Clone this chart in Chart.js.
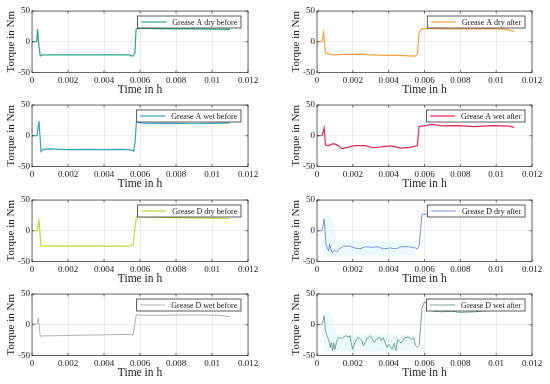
<!DOCTYPE html>
<html>
<head>
<meta charset="utf-8">
<script src="https://cdn.jsdelivr.net/npm/chart.js@4/dist/chart.umd.min.js"></script>
<style>
  html, body { margin: 0; padding: 0; background: #fff; }
  #page { position: relative; width: 550px; height: 384px; overflow: hidden; }
  .cell { position: absolute; width: 275px; height: 100px; }
  .cell canvas { display: block; }
</style>
</head>
<body>
<div id="page"></div>
<script>
// axis ticks
const xTicks = [0, 0.002, 0.004, 0.006, 0.008, 0.01, 0.012];
const yTicks = [-50, 0, 50];

// Grease A dry
const tADryBefore = [0, 0.00026, 0.00031, 0.00037, 0.00046, 0.0006, 0.001, 0.002, 0.003, 0.004, 0.005, 0.0054, 0.0056, 0.00572, 0.00578, 0.0059, 0.007, 0.008, 0.009, 0.01, 0.011];
const vADryBefore = [0, 0, 20.5, -3, -23, -21.5, -21.5, -21.5, -21.5, -21.5, -21.5, -21.5, -23.5, -18, 20, 22, 21.5, 21, 21, 20.5, 20];
const tADryAfter = [0, 0.00028, 0.00037, 0.00047, 0.0007, 0.001, 0.0014, 0.002, 0.0025, 0.003, 0.0038, 0.0045, 0.0051, 0.0055, 0.0056, 0.0057, 0.00586, 0.0065, 0.0075, 0.0085, 0.0095, 0.0105, 0.011];
const vADryAfter = [0, 0, 15, -18, -20, -21.5, -20.5, -20.5, -20, -21.5, -22, -22, -23, -23.5, -20, 15, 21.5, 21.5, 21, 21, 21.5, 20.5, 17];

// Grease A wet
const tAWetBefore = [0, 0.00028, 0.00039, 0.0005, 0.0006, 0.0009, 0.002, 0.003, 0.004, 0.005, 0.0055, 0.00565, 0.00573, 0.0058, 0.0062, 0.007, 0.008, 0.009, 0.01, 0.011];
const vAWetBefore = [0, 0, 24, -26, -23, -21.5, -22.5, -22, -22.5, -22, -23, -25, -10, 22.5, 20.5, 20, 20, 19.5, 20, 21];
const tAWetAfter = [0, 0.00028, 0.0004, 0.00047, 0.00065, 0.0009, 0.0011, 0.0014, 0.0017, 0.0021, 0.0027, 0.0031, 0.0036, 0.0041, 0.0047, 0.0052, 0.0056, 0.0057, 0.006, 0.0064, 0.007, 0.0079, 0.0088, 0.0098, 0.0107, 0.011];
const vAWetAfter = [0, 0, 13, -15, -16, -13, -14.5, -21, -19, -16, -16, -19.5, -18, -16.5, -20, -19, -16, 15, 16, 18.5, 16, 16.5, 15, 16.5, 15.5, 13.5];

// Grease D dry
const tDDryBefore = [0, 0.00028, 0.00039, 0.0005, 0.001, 0.002, 0.003, 0.004, 0.005, 0.0055, 0.00563, 0.0057, 0.0058, 0.006, 0.007, 0.008, 0.009, 0.01, 0.011];
const vDDryBefore = [0, 0, 16.5, -25, -25, -25, -25, -25, -25, -24.5, -21, 0, 23, 23, 22, 21.5, 21, 20.5, 19.5];
const tDDryAfter = [0, 0.00028, 0.0004, 0.0005, 0.00065, 0.0007, 0.00084, 0.001, 0.0011, 0.0013, 0.0015, 0.0018, 0.0021, 0.0024, 0.0027, 0.0031, 0.0034, 0.0037, 0.0041, 0.0044, 0.0047, 0.0051, 0.0055, 0.0056, 0.0057, 0.00586, 0.0062, 0.007, 0.008, 0.009, 0.01, 0.011];
const vDDryAfter = [0, 0, 19, -22, -33, -22, -36, -32, -35, -28, -25, -25, -28, -29.5, -26, -27, -26, -29.5, -28, -29.5, -26, -26, -28, -29.5, -25, 27, 27, 27, 27, 27, 27, 27];
const tBandDDryAfter = [0.00035, 0.0008, 0.0011, 0.002, 0.003, 0.004, 0.005, 0.0055];
const hiBandDDryAfter = [25, 25, -16, -16, -16, -17, -17, -17];
const loBandDDryAfter = [-42, -42, -42, -40, -40, -41, -40, -40];

// Grease D wet
const tDWetBefore = [0, 0.00028, 0.00035, 0.00046, 0.0006, 0.001, 0.0019, 0.0028, 0.0038, 0.0048, 0.0055, 0.0056, 0.0057, 0.0058, 0.006, 0.0075, 0.009, 0.0103, 0.011];
const vDWetBefore = [1.5, 1.5, 11, -19, -18, -18, -17.5, -17, -16.5, -16, -15.5, -18, 0, 16.5, 15.5, 15.5, 16, 15.5, 13];
const tDWetAfter = [0, 0.00028, 0.0004, 0.00047, 0.00056, 0.00065, 0.00074, 0.0008, 0.00087, 0.00093, 0.001, 0.0011, 0.0012, 0.0014, 0.0016, 0.0018, 0.00185, 0.0019, 0.002, 0.0021, 0.0023, 0.0025, 0.0026, 0.0028, 0.003, 0.0032, 0.0033, 0.0035, 0.0036, 0.0037, 0.0039, 0.004, 0.0042, 0.0043, 0.0044, 0.0045, 0.0047, 0.0049, 0.0051, 0.0053, 0.0054, 0.0055, 0.0056, 0.0057, 0.00586, 0.006, 0.0062, 0.0065, 0.007, 0.0075, 0.008, 0.0088, 0.0095, 0.011];
const vDWetAfter = [0, 1, 14, -10, -18, -24, -37, -29, -42, -30, -40, -26, -21, -22, -18, -20, -18, -29, -40, -29, -20, -26, -34, -22, -18, -29, -24, -20, -26, -21, -37, -32, -40, -30, -42, -24, -30, -21, -20, -24, -21, -34, -37, -34, 27, 38, 30, 22, 21, 22, 20, 21, 23, 24];
const tBandDWetAfter = [0.00035, 0.0008, 0.0011, 0.002, 0.003, 0.004, 0.005, 0.0055];
const hiBandDWetAfter = [20, 20, -16, -16, -16, -16, -17, -17];
const loBandDWetAfter = [-44, -44, -44, -43, -43, -44, -43, -42];

const rowTops = [0, 94, 189, 283];

const panels = [
  { row: 0, col: 0, label: 'Grease A dry before', color: '#2aa587', width: 1.2, t: tADryBefore, v: vADryBefore },
  { row: 0, col: 1, label: 'Grease A dry after', color: '#f6a23f', width: 1.2, t: tADryAfter, v: vADryAfter },
  { row: 1, col: 0, label: 'Grease A wet before', color: '#39a0c0', width: 1.2, t: tAWetBefore, v: vAWetBefore },
  { row: 1, col: 1, label: 'Grease A wet after', color: '#e4284f', width: 1.2, t: tAWetAfter, v: vAWetAfter },
  { row: 2, col: 0, label: 'Grease D dry before', color: '#c1d72d', width: 1.2, t: tDDryBefore, v: vDDryBefore },
  { row: 2, col: 1, label: 'Grease D dry after', color: '#5a7bd6', width: 0.8, t: tDDryAfter, v: vDDryAfter,
    band: { t: tBandDDryAfter, hi: hiBandDDryAfter, lo: loBandDDryAfter } },
  { row: 3, col: 0, label: 'Grease D wet before', color: '#a8a8a8', width: 0.9, t: tDWetBefore, v: vDWetBefore },
  { row: 3, col: 1, label: 'Grease D wet after', color: '#5b8d7e', width: 0.8, t: tDWetAfter, v: vDWetAfter,
    band: { t: tBandDWetAfter, hi: hiBandDWetAfter, lo: loBandDWetAfter } }
];

const SERIF = '"Liberation Serif", "Times New Roman", serif';

function pts(t, v) {
  return t.map((x, i) => ({ x: x, y: v[i] }));
}

// box, inward ticks and legend on top of the lines
const framePlugin = {
  id: 'frame',
  afterDatasetsDraw(chart) {
    const ctx = chart.ctx;
    const a = chart.chartArea;
    const xs = chart.scales.x, ys = chart.scales.y;
    ctx.save();
    ctx.strokeStyle = '#333';
    ctx.lineWidth = 0.7;
    ctx.beginPath();
    xTicks.forEach(t => {
      const px = xs.getPixelForValue(t);
      ctx.moveTo(px, a.bottom); ctx.lineTo(px, a.bottom - 2.5);
      ctx.moveTo(px, a.top); ctx.lineTo(px, a.top + 2.5);
    });
    yTicks.forEach(t => {
      const py = ys.getPixelForValue(t);
      ctx.moveTo(a.left, py); ctx.lineTo(a.left + 2.5, py);
      ctx.moveTo(a.right, py); ctx.lineTo(a.right - 2.5, py);
    });
    ctx.stroke();
    ctx.strokeRect(a.left, a.top, a.right - a.left, a.bottom - a.top);

    // legend
    const p = chart.options.plugins.frame;
    ctx.font = '8px ' + SERIF;
    const tw = ctx.measureText(p.label).width;
    const bw = 34.7 + tw + 3.7;
    const bx = a.right - 7 - bw;
    const by = a.top + 5;
    ctx.fillStyle = '#fff';
    ctx.fillRect(bx, by, bw, 12);
    ctx.strokeStyle = '#333';
    ctx.lineWidth = 0.8;
    ctx.strokeRect(bx, by, bw, 12);
    ctx.strokeStyle = p.color;
    ctx.lineWidth = p.width;
    ctx.beginPath();
    ctx.moveTo(bx + 3.7, by + 6);
    ctx.lineTo(bx + 28.7, by + 6);
    ctx.stroke();
    ctx.fillStyle = '#222';
    ctx.textBaseline = 'middle';
    ctx.fillText(p.label, bx + 34.7, by + 6.5);
    ctx.restore();
  }
};

function makeChart(p) {
  const cell = document.createElement('div');
  cell.className = 'cell';
  cell.style.left = (p.col * 275) + 'px';
  cell.style.top = rowTops[p.row] + 'px';
  const canvas = document.createElement('canvas');
  canvas.width = 275;
  canvas.height = 100;
  canvas.style.width = '275px';
  canvas.style.height = '100px';
  cell.appendChild(canvas);
  document.getElementById('page').appendChild(cell);

  const datasets = [{
    data: pts(p.t, p.v),
    borderColor: p.color,
    borderWidth: p.width,
    pointRadius: 0,
    tension: 0,
    fill: false
  }];
  if (p.band) {
    datasets.push({
      data: pts(p.band.t, p.band.lo),
      borderWidth: 0,
      pointRadius: 0,
      fill: false
    });
    datasets.push({
      data: pts(p.band.t, p.band.hi),
      borderWidth: 0,
      pointRadius: 0,
      backgroundColor: 'rgba(215, 243, 250, 0.45)',
      fill: '-1'
    });
  }

  const yWidth = p.col === 0 ? 32 : 42;
  const rightPad = p.col === 0 ? 27 : 18;

  return new Chart(canvas, {
    type: 'line',
    data: { datasets: datasets },
    plugins: [framePlugin],
    options: {
      responsive: false,
      animation: false,
      devicePixelRatio: 1,
      layout: { padding: { top: 11, right: rightPad, bottom: 0, left: 0 } },
      plugins: {
        legend: { display: false },
        tooltip: { enabled: false },
        frame: { label: p.label, color: p.color, width: p.width }
      },
      scales: {
        x: {
          type: 'linear',
          min: 0,
          max: 0.012,
          afterBuildTicks: s => { s.ticks = xTicks.map(v => ({ value: v })); },
          afterFit: s => { s.height = 27.5; },
          ticks: {
            font: { family: SERIF, size: 9 },
            color: '#222',
            padding: 3,
            maxRotation: 0,
            callback: v => String(+v.toFixed(4))
          },
          grid: { color: '#e4e4e4', lineWidth: 0.7, drawTicks: false },
          border: { display: false },
          title: {
            display: true,
            text: 'Time in h',
            font: { family: SERIF, size: 11.5 },
            color: '#222',
            padding: { top: 0, bottom: 3 }
          }
        },
        y: {
          min: -50,
          max: 50,
          afterBuildTicks: s => { s.ticks = yTicks.map(v => ({ value: v })); },
          afterFit: s => { s.width = yWidth; },
          ticks: {
            font: { family: SERIF, size: 9 },
            color: '#222',
            padding: 2
          },
          grid: { color: '#e4e4e4', lineWidth: 0.7, drawTicks: false },
          border: { display: false },
          title: {
            display: true,
            text: 'Torque in Nm',
            font: { family: SERIF, size: 11 },
            color: '#222',
            padding: { top: p.col === 0 ? 4.4 : 15, bottom: 0 }
          }
        }
      }
    }
  });
}

panels.forEach(p => {
  makeChart(p);
});
</script>
</body>
</html>
